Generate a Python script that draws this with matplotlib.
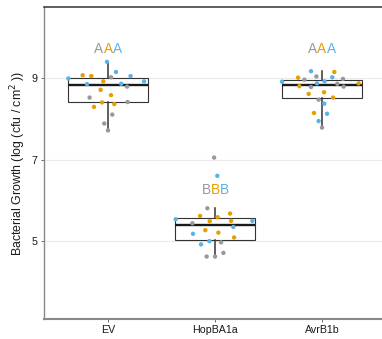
import matplotlib
matplotlib.use('Agg')
import matplotlib.pyplot as plt

plt.rcParams['font.family'] = ['Liberation Sans', 'DejaVu Sans']

# Группы и цвета повторов
groups = ['EV', 'HopBA1a', 'AvrB1b']
rep_colors = ['#999999', '#E69F00', '#56B4E9']

# Значения (log cfu/cm2) и горизонтальный джиттер для каждого повтора
ev_rep1 = [9.03, 8.80, 8.53, 8.42, 8.11, 7.89, 7.72]
ev_rep1_jit = [0.027, 0.177, -0.173, 0.182, 0.039, -0.036, -0.001]
ev_rep2 = [9.08, 9.06, 8.93, 8.72, 8.59, 8.41, 8.37, 8.30]
ev_rep2_jit = [-0.238, -0.157, -0.045, -0.070, 0.027, -0.057, 0.058, -0.132]
ev_rep3 = [9.41, 9.16, 9.06, 9.00, 8.93, 8.86, 8.87]
ev_rep3_jit = [-0.010, 0.074, 0.210, -0.372, 0.336, -0.197, 0.123]

hop_rep1 = [7.05, 5.80, 5.43, 4.96, 4.70, 4.61, 4.61]
hop_rep1_jit = [-0.009, -0.072, -0.212, 0.056, 0.078, -0.079, 0.000]
hop_rep2 = [5.61, 5.67, 5.58, 5.48, 5.49, 5.26, 5.20, 5.08]
hop_rep2_jit = [-0.140, 0.140, 0.024, -0.050, 0.150, -0.091, 0.031, 0.178]
hop_rep3 = [6.60, 5.53, 5.49, 5.34, 5.17, 4.99, 4.91]
hop_rep3_jit = [0.021, -0.368, 0.349, 0.171, -0.206, -0.053, -0.131]

avr_rep1 = [9.05, 8.97, 8.99, 8.87, 8.79, 8.80, 8.48, 7.79]
avr_rep1_jit = [-0.053, -0.165, 0.196, 0.143, -0.103, 0.202, -0.032, 0.000]
avr_rep2 = [9.16, 9.02, 8.88, 8.81, 8.66, 8.62, 8.53, 8.15]
avr_rep2_jit = [0.115, -0.224, 0.342, -0.212, 0.019, -0.125, 0.103, -0.075]
avr_rep3 = [9.18, 9.03, 8.92, 8.93, 8.88, 8.38, 8.13, 7.95]
avr_rep3_jit = [-0.103, 0.096, -0.374, 0.024, -0.047, 0.021, 0.047, -0.032]

# Буквы значимости и их высота
sig_letters = ['AAA', 'BBB', 'AAA']
sig_y = [9.72, 6.25, 9.72]

series = [
    [(ev_rep1, ev_rep1_jit), (ev_rep2, ev_rep2_jit), (ev_rep3, ev_rep3_jit)],
    [(hop_rep1, hop_rep1_jit), (hop_rep2, hop_rep2_jit), (hop_rep3, hop_rep3_jit)],
    [(avr_rep1, avr_rep1_jit), (avr_rep2, avr_rep2_jit), (avr_rep3, avr_rep3_jit)],
]

fig = plt.figure(figsize=(3.82, 3.39), dpi=100, facecolor='white')
ax = fig.add_axes([0.115, 0.059, 0.896, 0.920])

# 1. Боксплоты по всем точкам группы
box_data = [sum((v for v, _ in grp), []) for grp in series]
ax.boxplot(box_data, positions=[1, 2, 3], widths=0.75, whis=1.7,
           showfliers=False, patch_artist=True, zorder=2,
           boxprops=dict(facecolor='white', edgecolor='#333333', linewidth=0.8),
           whiskerprops=dict(color='#333333', linewidth=1.1),
           capprops=dict(linewidth=0),
           medianprops=dict(color='#1a1a1a', linewidth=1.7))

# 2. Точки (джиттер)
for i, grp in enumerate(series):
    for (vals, jit), col in zip(grp, rep_colors):
        ax.scatter([i + 1 + j for j in jit], vals, s=10, color=col,
                   edgecolors='none', zorder=3)

# 3. Разноцветные буквы над группами
for i, (letters, y) in enumerate(zip(sig_letters, sig_y)):
    mid = ax.text(i + 1, y, letters[1], color=rep_colors[1], fontsize=9.8,
                  ha='center', va='center', zorder=4)
    ax.annotate(letters[0], xy=(0, 0.5), xycoords=mid, color=rep_colors[0],
                fontsize=9.8, ha='right', va='center')
    ax.annotate(letters[2], xy=(1, 0.5), xycoords=mid, color=rep_colors[2],
                fontsize=9.8, ha='left', va='center')

ax.set_xlim(0.4, 3.6)
ax.set_ylim(3.07, 10.76)
ax.set_xticks([1, 2, 3])
ax.set_xticklabels(groups)
ax.set_yticks([5, 7, 9])
ax.yaxis.grid(True, color='#EBEBEB', linewidth=0.8, zorder=0)
ax.set_axisbelow(True)
ax.tick_params(axis='both', labelsize=7.7, length=2.5, width=0.6,
               color='#555555', labelcolor='#1a1a1a', pad=2)
ax.set_ylabel('Bacterial Growth (log (cfu / cm$^{2}$ ))', fontsize=8.9,
              color='#1a1a1a')
ax.yaxis.set_label_coords(-0.047, 0.5)

ax.spines['right'].set_visible(False)
ax.spines['top'].set_color('#333333')
ax.spines['top'].set_linewidth(1.1)
ax.spines['left'].set_color('#888888')
ax.spines['left'].set_linewidth(1.0)
ax.spines['bottom'].set_color('#888888')
ax.spines['bottom'].set_linewidth(1.5)

fig.savefig('out.png', dpi=100, facecolor='white')
